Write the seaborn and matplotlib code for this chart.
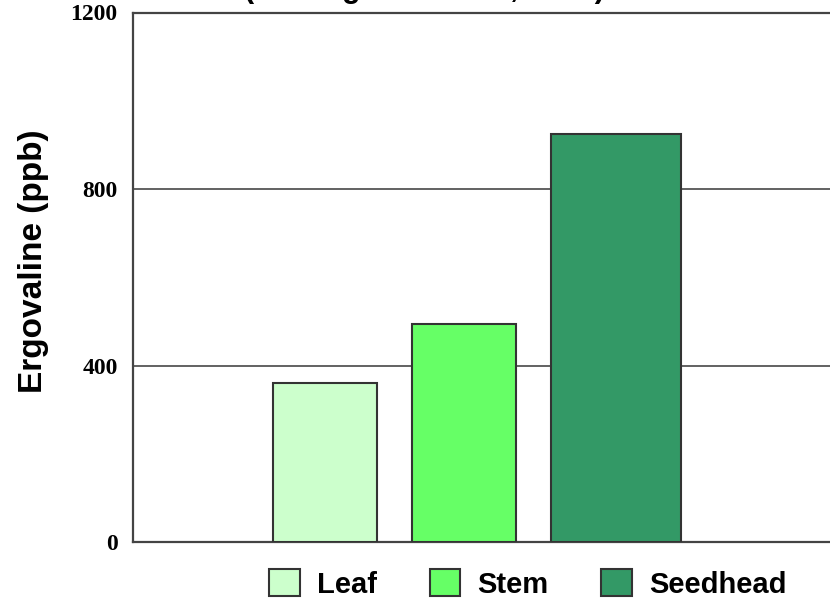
import matplotlib
matplotlib.use("Agg")
import matplotlib.pyplot as plt
import pandas as pd
import seaborn as sns

# ergovaline by plant part
tissues = ["Leaf", "Stem", "Seedhead"]
ergovaline = [360, 495, 925]
bar_colors = ["#CCFFCC", "#66FF66", "#339966"]
y_ticks = [0, 400, 800, 1200]

sns.set_style("white")
plt.rcParams["font.family"] = ["Liberation Sans", "DejaVu Sans"]
plt.rcParams["text.color"] = "black"
plt.rcParams["axes.labelcolor"] = "black"
plt.rcParams["ytick.color"] = "black"

df = pd.DataFrame({"tissue": tissues, "ppb": ergovaline})

fig = plt.figure(figsize=(8.3, 6.01), dpi=100)
ax = fig.add_axes([133 / 830, 1 - 542 / 601, 1 - 133 / 830, (542 - 12.5) / 601])

sns.barplot(data=df, x="tissue", y="ppb", hue="tissue", palette=bar_colors,
            width=0.748, edgecolor="#333333", linewidth=1.5, legend=False,
            saturation=1, ax=ax, zorder=3)

# seedhead bar is drawn wider in the original
seed = ax.patches[2]
seed.set_width(0.935)

ax.set_xlim(-1.381, 3.633)
ax.set_ylim(0, 1200)
ax.set_yticks(y_ticks)
ax.set_yticklabels([str(t) for t in y_ticks], family="Liberation Serif",
                   fontweight="bold", fontsize=17)
ax.tick_params(axis="y", length=0, pad=11)
ax.set_xticks([])
ax.set_xlabel("")

for t in y_ticks[1:3]:
    ax.axhline(t, color="#555555", lw=1.3, zorder=1)

for s in ["left", "bottom", "top"]:
    ax.spines[s].set_color("#444444")
    ax.spines[s].set_linewidth(1.6)
ax.spines["right"].set_visible(False)

ax.set_ylabel("Ergovaline (ppb)", fontsize=24, fontweight="bold")
ax.yaxis.set_label_coords(-0.121, 0.53)

# title sits mostly above the visible area in the original
fig.text(424.5 / 830, 1 + 3 / 601, "(Rottinghaus et al., 1991)",
         ha="center", va="baseline", fontsize=22, fontweight="bold")

handles = ax.patches[:3]
fig.legend(handles, tissues, loc="center", bbox_to_anchor=(0.636, 0.028),
           ncol=3, frameon=False, prop={"size": 21, "weight": "bold"},
           handlelength=1.05, handleheight=1.05, handletextpad=0.6,
           columnspacing=1.8)

fig.savefig("out.png", dpi=100)
